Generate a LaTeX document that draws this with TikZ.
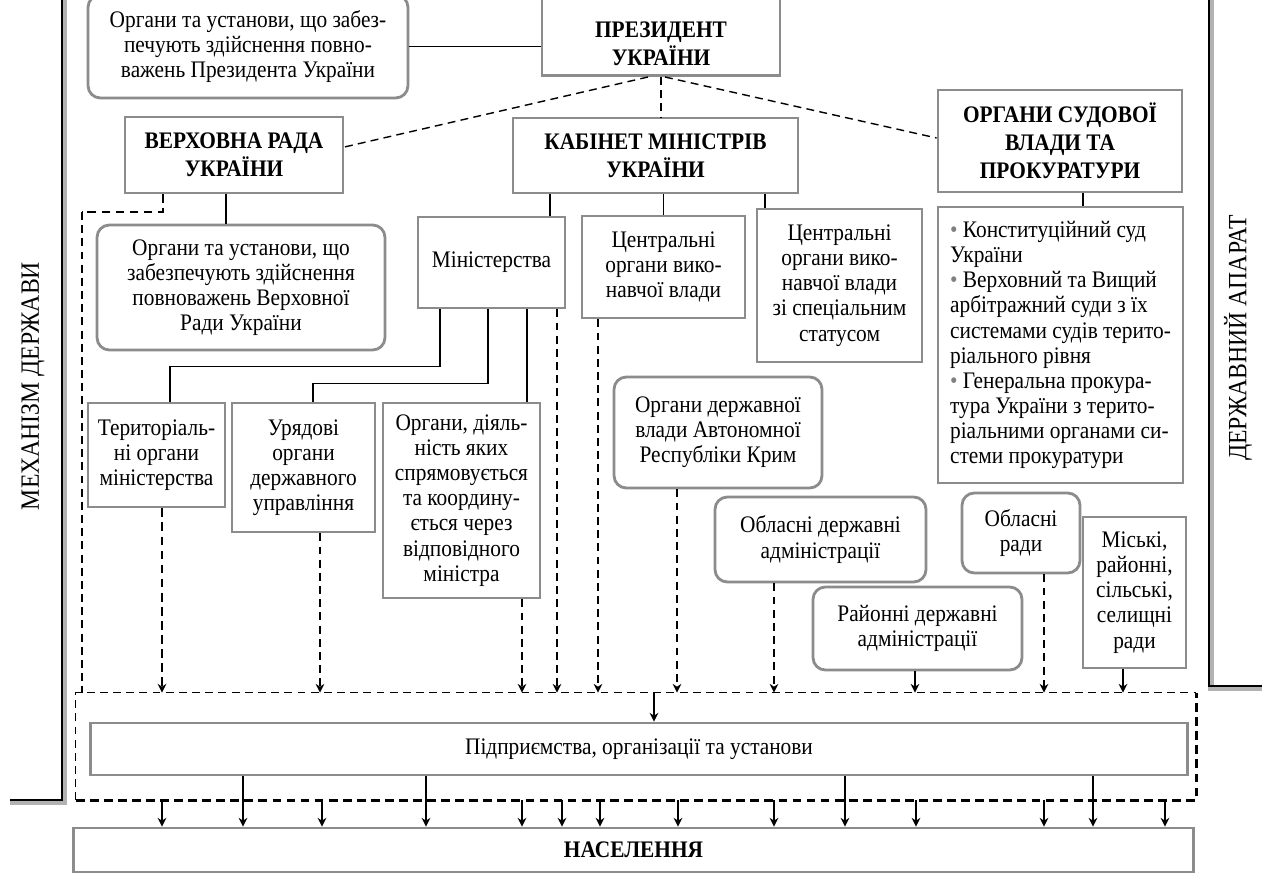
\documentclass[tikz,border=0pt]{standalone}
\usepackage{fontspec}
\setmainfont{Liberation Serif}[FakeStretch=0.9]
\usetikzlibrary{arrows.meta}
\newcommand\tekst{\fontsize{13.5}{14.3}\selectfont}
\newcommand\koptekst{\fontsize{13.5}{15.9}\selectfont\bfseries}
\newcommand\zijtekst{\fontsize{15}{18}\selectfont}
\newcommand\bul{\textcolor{gray}{\textbullet}\ }
\tikzset{
  blk/.style={rectangle,draw=black!45,line width=1.6pt,align=center,inner sep=0pt,font=\tekst},
  rblk/.style={blk,rounded corners=7pt},
  ttl/.style={blk,font=\koptekst},
  arr/.style={-{Stealth[length=5pt,width=5pt]}},
  dsh/.style={thick,dash pattern=on 4.5pt off 3pt},
  tdsh/.style={line width=1.6pt,dash pattern=on 5pt off 3pt},
  frame/.style={line width=1.2pt},
  frameshadow/.style={gray!60,line width=3pt}
}
\begin{document}
\begin{tikzpicture}[x=0.02cm,y=-0.02cm]
\useasboundingbox (0,0) rectangle (1262,875);
\draw[frameshadow] (64,-5) -- (64,802) -- (10,802);
\draw[frame] (62,-5) -- (62,800) -- (10,800);
\draw[frameshadow] (1211,-5) -- (1211,688) -- (1267,688);
\draw[frame] (1209,-5) -- (1209,686) -- (1267,686);
\node[rotate=90,font=\zijtekst] (MD) at (33,386) {МЕХАНІЗМ ДЕРЖАВИ};
\node[rotate=90,font=\zijtekst] (DA) at (1238,338) {ДЕРЖАВНИЙ АПАРАТ};
\node[rblk,minimum width=6.4cm,minimum height=2.06cm] (PO) at (248,46.5) {Органи та установи, що забез-\\печують здійснення повно-\\важень Президента України};
\node[blk,minimum width=4.76cm,minimum height=2.2cm,anchor=south] (P) at (661,77) {};
\node[font=\koptekst,align=center] (PT) at (661,44) {ПРЕЗИДЕНТ\\УКРАЇНИ};
\node[ttl,minimum width=4.36cm,minimum height=1.52cm] (VR) at (234,155) {ВЕРХОВНА РАДА\\УКРАЇНИ};
\node[ttl,minimum width=5.7cm,minimum height=1.5cm] (KM) at (655.5,155.5) {КАБІНЕТ МІНІСТРІВ\\УКРАЇНИ};
\node[ttl,minimum width=4.88cm,minimum height=2.04cm] (SV) at (1060,141) {ОРГАНИ СУДОВОЇ\\ВЛАДИ ТА\\ПРОКУРАТУРИ};
\node[blk,align=left,minimum width=4.9cm,minimum height=5.52cm] (SL) at (1060.5,345) {\bul Конституційний суд\\України\\\bul Верховний та Вищий\\арбітражний суди з їх\\системами судів терито-\\ріального рівня\\\bul Генеральна прокура-\\тура України з терито-\\ріальними органами си-\\стеми прокуратури};
\node[rblk,minimum width=5.76cm,minimum height=2.5cm] (VO) at (241,287.5) {Органи та установи, що\\забезпечують здійснення\\повноважень Верховної\\Ради України};
\node[blk,minimum width=2.94cm,minimum height=1.82cm] (M) at (491.5,262.5) {Міністерства};
\node[blk,minimum width=3.26cm,minimum height=2.04cm] (CO) at (663.5,267) {Центральні\\органи вико-\\навчої влади};
\node[blk,minimum width=3.3cm,minimum height=3.06cm] (CS) at (839.5,285.5) {Центральні\\органи вико-\\навчої влади\\зі спеціальним\\статусом};
\node[blk,minimum width=2.74cm,minimum height=2.08cm] (TO) at (156.5,455) {Територіаль-\\ні органи\\міністерства};
\node[blk,minimum width=2.86cm,minimum height=2.58cm] (UO) at (303.5,467.5) {Урядові\\органи\\державного\\управління};
\node[blk,minimum width=3.14cm,minimum height=3.9cm] (OD) at (461.5,500.5) {Органи, діяль-\\ність яких\\спрямовується\\та координу-\\ється через\\відповідного\\міністра};
\node[rblk,minimum width=4.16cm,minimum height=2.22cm] (AR) at (718,432.5) {Органи державної\\влади Автономної\\Республіки Крим};
\node[rblk,minimum width=4.22cm,minimum height=1.7cm] (OA) at (820.5,539.5) {Обласні державні\\адміністрації};
\node[rblk,minimum width=4.18cm,minimum height=1.66cm] (RA) at (917.5,628.5) {Районні державні\\адміністрації};
\node[rblk,minimum width=2.36cm,minimum height=1.6cm] (OR) at (1021,533) {Обласні\\ради};
\node[blk,minimum width=2.06cm,minimum height=3.02cm] (MR) at (1134.5,592.5) {Міські,\\районні,\\сільські,\\селищні\\ради};
\node[minimum width=22.4cm,minimum height=2.14cm,inner sep=0pt] (Z) at (636,746.5) {};
\node[blk,minimum width=21.96cm,minimum height=1.04cm] (PU) at (639,749) {Підприємства, організації та установи};
\node[ttl,minimum width=22.42cm,minimum height=0.88cm] (N) at (633.5,850) {НАСЕЛЕННЯ};
\draw[thick] (PO.east) -- (PO.east -| P.west);
\draw[dsh] ([shift={(-13,0)}]P.south) -- ([shift={(0,-8)}]VR.east);
\draw[dsh] (P.south) -- (P.south |- KM.north);
\draw[dsh] ([shift={(4,0)}]P.south) -- ([shift={(0,-3)}]SV.west);
\draw[thick] ([shift={(-8,0)}]VR.south) -- ([shift={(-8,0)}]VR.south |- VO.north);
\coordinate (VRh) at (82,212);
\draw[tdsh] ([shift={(-71,0)}]VR.south) |- (VRh);
\draw[dsh] (VRh) -- (VRh |- Z.north);
\draw[thick] ([shift={(58.5,0)}]M.north) -- ([shift={(58.5,0)}]M.north |- KM.south);
\draw[thick] (CO.north) -- (CO.north |- KM.south);
\draw[thick] ([shift={(-74.5,0)}]CS.north) -- ([shift={(-74.5,0)}]CS.north |- KM.south);
\draw[thick] ([shift={(23,0)}]SV.south) -- ([shift={(23,0)}]SV.south |- SL.north);
\draw[thick] ([shift={(-51.5,0)}]M.south) -- ++(0,57) -| ([shift={(13.5,0)}]TO.north);
\draw[thick] ([shift={(-3.5,0)}]M.south) -- ++(0,74) -| ([shift={(9.5,0)}]UO.north);
\draw[thick] ([shift={(35.5,0)}]M.south) -- ([shift={(35.5,0)}]M.south |- OD.north);
\draw[tdsh,arr] ([shift={(5.5,0)}]TO.south) -- ([shift={(5.5,0)}]TO.south |- Z.north);
\foreach \n/\s in {UO/16.5,OD/60.5,M/65.5,CO/-65.5,AR/-41,OA/-46.5,OR/23}
  \draw[dsh,arr] ([shift={(\s,0)}]\n.south) -- ([shift={(\s,0)}]\n.south |- Z.north);
\foreach \n/\s in {RA/-2.5,MR/-11.5}
  \draw[thick,arr] ([shift={(\s,0)}]\n.south) -- ([shift={(\s,0)}]\n.south |- Z.north);
\draw[dsh] (Z.south west) |- (Z.north east);
\draw[tdsh] (Z.south west) -- (Z.south east) -- (Z.north east);
\draw[thick,arr] ([shift={(15,0)}]PU.north |- Z.north) -- ([shift={(15,0)}]PU.north);
\foreach \x in {162,322,522,562,600,678,774,916,1044,1165}
  \draw[thick,arr] (Z.south -| \x,0) -- (N.north -| \x,0);
\foreach \x in {243,426,845,1093}
  \draw[thick,arr] (PU.south -| \x,0) -- (N.north -| \x,0);
\end{tikzpicture}
\end{document}
